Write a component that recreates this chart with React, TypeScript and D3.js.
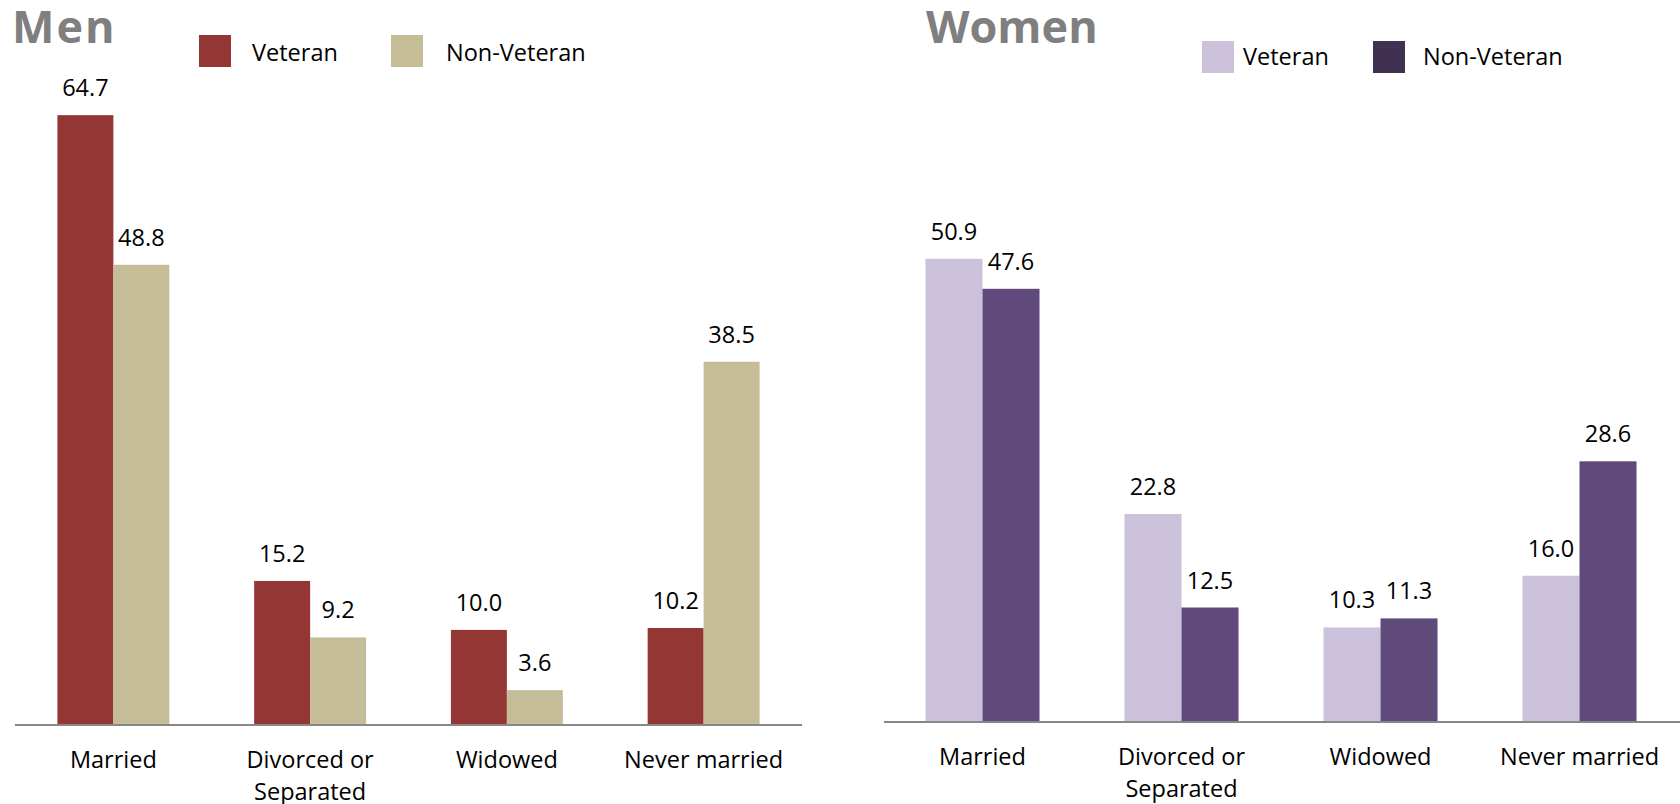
import React, { useEffect } from "react";
import * as d3 from "d3";

const categories = ["Married", "Divorced or\nSeparated", "Widowed", "Never married"];
const seriesNames = ["Veteran", "Non-Veteran"];
const menVeteran = [64.7, 15.2, 10.0, 10.2];
const menNonVeteran = [48.8, 9.2, 3.6, 38.5];
const womenVeteran = [50.9, 22.8, 10.3, 16.0];
const womenNonVeteran = [47.6, 12.5, 11.3, 28.6];

const W = 1680;
const H = 804;
const FONT = "'Open Sans', 'Noto Sans', sans-serif";
const FS = 23.5;

type PanelProps = {
  title: string;
  titleX: number;
  titleSpacing: number;
  values: number[][];
  colors: string[];
  legendColors: string[];
  x0: number;
  x1: number;
  axisLeft: number;
  axisRight: number;
  baseline: number;
  pxPerUnit: number;
  padInner: number;
  legendX: number[];
  legendTextX: number[];
  legendY: number;
  legendBase: number;
  legendSize: number;
};

function Panel(p: PanelProps) {
  const x = d3
    .scaleBand<string>()
    .domain(categories)
    .range([p.x0, p.x1])
    .paddingInner(p.padInner)
    .paddingOuter(p.padInner / 2);
  const xs = d3
    .scaleBand<string>()
    .domain(seriesNames)
    .range([0, x.bandwidth()])
    .padding(0);
  const yMax = 70;
  const y = d3
    .scaleLinear()
    .domain([0, yMax])
    .range([p.baseline, p.baseline - yMax * p.pxPerUnit]);
  const fmt = d3.format(".1f");

  return (
    <g>
      <text
        x={p.titleX}
        y={43}
        fontFamily={FONT}
        fontWeight={700}
        fontSize={45}
        letterSpacing={p.titleSpacing}
        fill="#7f7f7f"
      >
        {p.title}
      </text>
      {seriesNames.map((s, i) => (
        <g key={s}>
          <rect
            x={p.legendX[i]}
            y={p.legendY}
            width={p.legendSize}
            height={p.legendSize}
            fill={p.legendColors[i]}
          />
          <text
            x={p.legendTextX[i]}
            y={p.legendBase}
            fontFamily={FONT}
            fontSize={FS}
            fill="#000"
          >
            {s}
          </text>
        </g>
      ))}
      {categories.map((c) => (
        <g key={c}>
          {seriesNames.map((s, si) => {
            const v = p.values[si][categories.indexOf(c)];
            const bx = (x(c) as number) + (xs(s) as number);
            const bw = xs.bandwidth();
            return (
              <g key={s}>
                <rect
                  x={bx}
                  y={y(v)}
                  width={bw}
                  height={p.baseline - y(v)}
                  fill={p.colors[si]}
                />
                <text
                  x={bx + bw / 2}
                  y={y(v) - 19}
                  textAnchor="middle"
                  fontFamily={FONT}
                  fontSize={FS}
                  fill="#000"
                >
                  {fmt(v)}
                </text>
              </g>
            );
          })}
          {c.split("\n").map((line, li) => (
            <text
              key={li}
              x={(x(c) as number) + x.bandwidth() / 2}
              y={p.baseline + 44 + li * 32}
              textAnchor="middle"
              fontFamily={FONT}
              fontSize={FS}
              fill="#000"
            >
              {line}
            </text>
          ))}
        </g>
      ))}
      <line
        x1={p.axisLeft}
        x2={p.axisRight}
        y1={p.baseline + 1}
        y2={p.baseline + 1}
        stroke="#878787"
        strokeWidth={2}
      />
    </g>
  );
}

export default function App() {
  useEffect(() => {
    document.body.style.margin = "0";
  }, []);
  return (
    <svg
      width={W}
      height={H}
      style={{ display: "block", position: "absolute", left: 0, top: 0 }}
    >
      <rect x={0} y={0} width={W} height={H} fill="#fff" />
      <Panel
        title="Men"
        titleX={12}
        titleSpacing={2}
        values={[menVeteran, menNonVeteran]}
        colors={["#943634", "#C4BD97"]}
        legendColors={["#943634", "#C4BD97"]}
        x0={15}
        x1={802}
        axisLeft={15}
        axisRight={802}
        baseline={724}
        pxPerUnit={9.41}
        padInner={0.431}
        legendX={[199, 391]}
        legendTextX={[252, 446]}
        legendY={35}
        legendBase={61}
        legendSize={32}
      />
      <Panel
        title="Women"
        titleX={926}
        titleSpacing={0}
        values={[womenVeteran, womenNonVeteran]}
        colors={["#CCC1DA", "#604A7B"]}
        legendColors={["#CCC1DA", "#403152"]}
        x0={883}
        x1={1679}
        axisLeft={884}
        axisRight={1680}
        baseline={721}
        pxPerUnit={9.08}
        padInner={0.427}
        legendX={[1202, 1373]}
        legendTextX={[1243, 1423]}
        legendY={41}
        legendBase={65}
        legendSize={32}
      />
    </svg>
  );
}
